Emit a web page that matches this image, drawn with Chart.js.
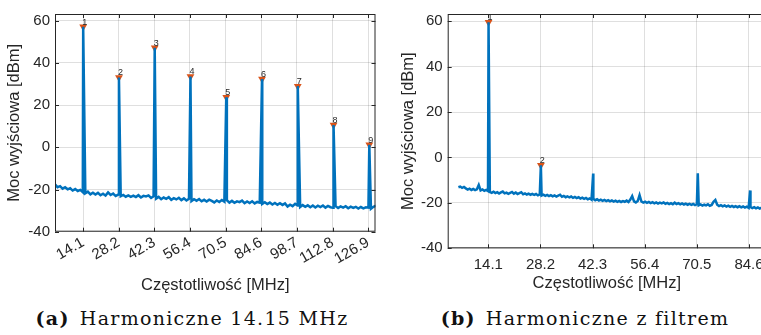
<!DOCTYPE html>
<html lang="pl">
<head>
<meta charset="UTF-8">
<title>Harmoniczne</title>
<style>
  html, body {
    margin: 0;
    padding: 0;
    background: #fff;
    width: 761px;
    height: 335px;
    overflow: hidden;
  }
  canvas { position: absolute; top: 0; }
  #chartA { left: 0; }
  #chartB { left: 380px; }
  .caption {
    position: absolute;
    top: 309px;
    transform: translateX(-50%);
    font-family: "DejaVu Serif", serif;
    font-size: 19px;
    line-height: 19px;
    letter-spacing: 1.3px;
    color: #111;
    white-space: nowrap;
  }
  .caption b { margin-right: 10px; }
</style>
</head>
<body>
<canvas id="chartA" width="380" height="300"></canvas>
<canvas id="chartB" width="400" height="300"></canvas>
<div class="caption" style="left:192px"><b>(a)</b>Harmoniczne 14.15 MHz</div>
<div class="caption" style="left:585px"><b>(b)</b>Harmoniczne z filtrem</div>

<script src="https://cdn.jsdelivr.net/npm/chart.js"></script>
<script>
// axis ticks [MHz] and [dBm]
const xTickVals = [14.1, 28.2, 42.3, 56.4, 70.5, 84.6, 98.7, 112.8, 126.9];
const xTickLabels = ['14.1', '28.2', '42.3', '56.4', '70.5', '84.6', '98.7', '112.8', '126.9'];
const yTickVals = [-40, -20, 0, 20, 40, 60];

// (a) spectrum without filter: noise floor sampled every 1 MHz from 3 MHz
const noiseStartA = 3;
const noiseStepA = 1;
const noiseA = [
  -17.6, -18.9, -18.4, -19.6, -18.9, -19.9, -19.4, -20.5, -19.8, -20.7,
  -20.2, -21.3, -21.8, -21.0, -22.3, -21.5, -22.4, -21.6, -22.7, -22.0,
  -22.9, -21.4, -22.6, -21.9, -23.1, -22.4, -23.2, -22.6, -23.4, -22.8,
  -23.5, -22.9, -23.6, -22.7, -23.8, -23.0, -23.3, -22.8, -24.0, -23.2,
  -24.3, -23.5, -24.6, -23.8, -24.4, -23.6, -24.9, -24.1, -24.7, -23.9,
  -25.0, -24.2, -25.2, -24.4, -25.5, -24.6, -25.3, -24.5, -25.6, -24.9,
  -25.7, -24.8, -25.4, -26.1, -25.2, -25.9, -25.0, -25.8, -25.1, -26.2,
  -25.4, -26.3, -25.6, -26.0, -25.3, -26.5, -25.7, -26.4, -25.6, -26.6,
  -25.9, -26.2, -26.8, -26.0, -26.9, -26.2, -27.1, -26.4, -27.2, -26.5,
  -27.3, -26.6, -28.1, -27.2, -27.9, -26.8, -27.6, -28.3, -27.4, -28.2,
  -27.5, -28.4, -27.6, -28.5, -27.7, -28.3, -27.6, -28.6, -27.8, -28.4,
  -28.7, -27.9, -28.8, -28.0, -28.6, -27.9, -28.9, -28.1, -28.7, -28.2,
  -29.0, -28.3, -28.9, -28.4, -28.6, -29.1, -28.2, -27.7
];
// harmonics of 14.15 MHz
const peakFreqA = [14.15, 28.3, 42.45, 56.6, 70.75, 84.9, 99.05, 113.2, 127.35];
const peakDbA = [57.1, 33.1, 47.2, 33.6, 23.7, 32.4, 29.0, 10.6, 1.2];
const peakLabelsA = ['1', '2', '3', '4', '5', '6', '7', '8', '9'];

// (b) spectrum with filter: noise floor sampled every 0.5 MHz from 6 MHz
const noiseStartB = 6;
const noiseStepB = 0.5;
const noiseB = [
  -13.1, -12.8, -13.4, -13.0, -13.6, -14.1, -13.7, -14.3, -13.9, -14.4,
  -14.0, -12.1, -14.5, -14.1, -14.7, -14.3, -14.8, -15.2, -15.6, -15.1,
  -15.7, -15.3, -15.9, -15.4, -15.0, -15.8, -15.5, -16.0, -15.6, -15.2,
  -15.9, -15.4, -16.1, -15.7, -15.3, -16.2, -15.8, -16.3, -15.9, -16.4,
  -16.0, -16.5, -16.1, -16.7, -16.3, -16.8, -16.4, -16.9, -16.5, -17.0,
  -16.6, -17.1, -16.7, -17.2, -16.8, -16.4, -17.3, -16.9, -17.5, -17.1,
  -17.6, -17.2, -17.8, -17.4, -17.9, -17.5, -18.1, -17.7, -18.2, -17.8,
  -18.4, -18.0, -18.6, -18.2, -18.8, -18.4, -19.0, -18.6, -19.1, -18.7,
  -19.2, -18.8, -19.3, -18.9, -19.4, -19.0, -19.5, -19.1, -19.6, -19.2,
  -19.5, -19.0, -19.6, -18.5, -17.0, -19.3, -19.8, -19.2, -16.6, -19.4,
  -19.9, -19.5, -20.0, -19.6, -20.1, -19.7, -20.2, -19.8, -20.3, -19.9,
  -20.2, -19.8, -20.4, -20.0, -20.5, -20.1, -20.6, -19.9, -20.5, -20.1,
  -20.6, -20.2, -20.7, -20.3, -20.8, -20.4, -20.9, -20.5, -21.0, -20.6,
  -21.1, -20.7, -21.2, -20.8, -21.1, -20.6, -21.3, -20.9, -19.5, -18.7,
  -20.8, -21.4, -21.0, -21.5, -21.1, -21.6, -21.2, -21.7, -21.3, -21.8,
  -21.4, -21.9, -21.5, -22.0, -21.6, -22.1, -21.7, -22.2, -21.8, -22.3,
  -21.9, -22.4, -22.0, -22.5, -22.1, -22.6, -22.2, -22.7
];
const peakFreqB = [14.15, 28.3, 42.45, 70.75, 84.9];
const peakDbB = [59.6, -3.4, -7.1, -7.0, -14.5];
const peakLabelsB = ['1', '2'];   // only the first two are marked

const traceColor = '#0072BD';
const markerColor = '#D95319';
const axisColor = '#262626';
const gridColor = 'rgba(38,38,38,0.15)';

Chart.defaults.font.family = '"Liberation Sans", Arial, sans-serif';
Chart.defaults.color = axisColor;

// noise samples plus harmonic spikes, sorted by frequency
function buildTrace(start, step, noise, pf, pv) {
  const pts = noise.map((v, i) => ({ x: start + i * step, y: v }));
  pf.forEach((f, i) => pts.push({ x: f, y: pv[i] }));
  pts.sort((a, b) => a.x - b.x);
  return pts;
}

// MATLAB-style box with inward ticks, plus numbered peak labels
const axisBox = {
  id: 'axisBox',
  afterDraw(chart, args, opts) {
    const { ctx, chartArea: a, scales } = chart;
    ctx.save();
    ctx.strokeStyle = axisColor;
    ctx.lineWidth = 1;
    ctx.strokeRect(a.left + 0.5, a.top + 0.5, a.right - a.left - 1, a.bottom - a.top - 1);
    ctx.beginPath();
    scales.x.ticks.forEach(t => {
      const px = Math.round(scales.x.getPixelForValue(t.value)) + 0.5;
      ctx.moveTo(px, a.bottom); ctx.lineTo(px, a.bottom - 4);
      ctx.moveTo(px, a.top); ctx.lineTo(px, a.top + 4);
    });
    scales.y.ticks.forEach(t => {
      const py = Math.round(scales.y.getPixelForValue(t.value)) + 0.5;
      ctx.moveTo(a.left, py); ctx.lineTo(a.left + 4, py);
      ctx.moveTo(a.right, py); ctx.lineTo(a.right - 4, py);
    });
    ctx.stroke();

    ctx.fillStyle = axisColor;
    ctx.font = '9px "Liberation Sans", Arial, sans-serif';
    ctx.textAlign = 'left';
    ctx.textBaseline = 'alphabetic';
    opts.labels.forEach((txt, i) => {
      const px = scales.x.getPixelForValue(opts.freq[i]);
      const py = scales.y.getPixelForValue(opts.db[i]);
      ctx.fillText(txt, px - 1, py - 2);
    });
    ctx.restore();
  }
};

function makeChart(id, cfg) {
  const markerPts = cfg.labels.map((l, i) => ({ x: cfg.peakFreq[i], y: cfg.peakDb[i] }));
  return new Chart(document.getElementById(id), {
    type: 'line',
    data: {
      datasets: [{
        data: buildTrace(cfg.start, cfg.step, cfg.noise, cfg.peakFreq, cfg.peakDb),
        borderColor: traceColor,
        borderWidth: 2.5,
        pointRadius: 0,
        tension: 0
      }, {
        data: markerPts,
        showLine: false,
        pointStyle: 'triangle',
        rotation: 180,
        pointRadius: 4.5,
        backgroundColor: markerColor,
        borderColor: markerColor,
        borderWidth: 0,
        clip: false
      }]
    },
    options: {
      responsive: false,
      animation: false,
      devicePixelRatio: 1,
      layout: { padding: { top: 6, right: cfg.padRight, left: 0, bottom: 0 } },
      plugins: {
        legend: { display: false },
        tooltip: { enabled: false },
        axisBox: { labels: cfg.labels, freq: cfg.peakFreq, db: cfg.peakDb }
      },
      scales: {
        x: {
          type: 'linear',
          min: cfg.xMin,
          max: cfg.xMax,
          afterBuildTicks: s => { s.ticks = cfg.xTicks.map(v => ({ value: v })); },
          afterFit: s => { s.height = cfg.xAxisH; },
          ticks: {
            autoSkip: false,
            minRotation: cfg.rot,
            maxRotation: cfg.rot,
            padding: cfg.xTickPad,
            font: { size: 15 },
            callback: (v, i) => xTickLabels[i]
          },
          grid: { color: gridColor, drawTicks: false },
          border: { display: false },
          title: {
            display: true,
            text: 'Częstotliwość [MHz]',
            font: { size: 16.5 },
            padding: { top: 0, bottom: cfg.xTitlePad }
          }
        },
        y: {
          min: -40,
          max: 63.2,
          afterBuildTicks: s => { s.ticks = yTickVals.map(v => ({ value: v })); },
          afterFit: s => { s.width = cfg.yAxisW; },
          ticks: { padding: 5, font: { size: 15 } },
          grid: { color: gridColor, drawTicks: false },
          border: { display: false },
          title: {
            display: true,
            text: 'Moc wyjściowa [dBm]',
            font: { size: 16.5 },
            padding: { top: cfg.yTitlePad, bottom: 0 }
          }
        }
      }
    },
    plugins: [axisBox]
  });
}

makeChart('chartA', {
  start: noiseStartA, step: noiseStepA, noise: noiseA,
  peakFreq: peakFreqA, peakDb: peakDbA, labels: peakLabelsA,
  xMin: 3, xMax: 129.8, xTicks: xTickVals, rot: 30,
  xAxisH: 68.3, yAxisW: 55, padRight: 4.5,
  xTickPad: 2, xTitlePad: 5, yTitlePad: 5
});

makeChart('chartB', {
  start: noiseStartB, step: noiseStepB, noise: noiseB,
  peakFreq: peakFreqB, peakDb: peakDbB, labels: peakLabelsB,
  xMin: 3.1, xMax: 89.2, xTicks: xTickVals.slice(0, 6), rot: 0,
  xAxisH: 51.7, yAxisW: 67.7, padRight: 14,
  xTickPad: 8, xTitlePad: 7, yTitlePad: 18.4
});
</script>
</body>
</html>
